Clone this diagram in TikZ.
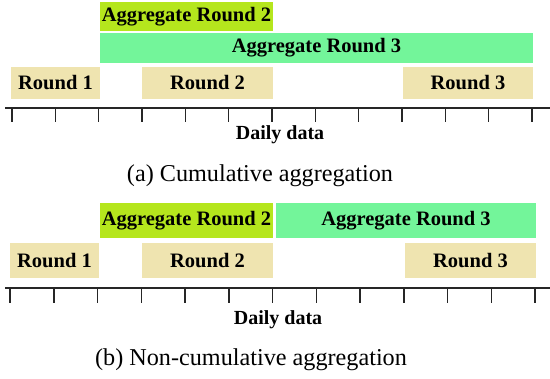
\documentclass[tikz,border=0pt]{standalone}
\usepackage{fontspec}
\setmainfont{Liberation Serif}
\definecolor{limeg}{HTML}{B5E61D}
\definecolor{mint}{HTML}{73F59A}
\definecolor{beige}{HTML}{EFE4B0}
\begin{document}
\begin{tikzpicture}[x=1pt,y=-1pt,
  box/.style={inner sep=0pt,outer sep=0pt,font=\fontsize{20.5}{20.5}\selectfont\bfseries,text=black},
  axis/.style={line width=2pt,draw=black!85},
  tickline/.style={line width=1.5pt,draw=black!85},
  lab/.style={font=\fontsize{20}{20}\selectfont\bfseries},
  captext/.style={font=\fontsize{24.2}{25}\selectfont}]
\useasboundingbox (0,0) rectangle (550,379);
% panel (a)
\node[box,fill=limeg,minimum width=173pt,minimum height=29pt] (agg2a) at (186.5,16.5) {Aggregate Round 2};
\node[box,fill=mint,minimum width=433pt,minimum height=30pt] (agg3a) at (316.5,48) {Aggregate Round 3};
\node[box,fill=beige,minimum width=89pt,minimum height=32pt] (r1a) at (55.5,83) {Round 1};
\node[box,fill=beige,minimum width=131pt,minimum height=32pt] (r2a) at (207.5,83) {Round 2};
\node[box,fill=beige,minimum width=130pt,minimum height=32pt] (r3a) at (468,83) {Round 3};
\draw[axis] (5,108) -- (550,108);
\foreach \i in {0,...,12} \draw[tickline] ({12+43.33*\i},108) -- ({12+43.33*\i},122);
\node[lab] (da) at (280,135) {Daily data};
\node[captext] (capa) at (260,176) {(a) Cumulative aggregation};
% panel (b)
\node[box,fill=limeg,minimum width=173pt,minimum height=35pt] (agg2b) at (186.5,220.5) {Aggregate Round 2};
\node[box,fill=mint,minimum width=260pt,minimum height=35pt] (agg3b) at (406,220.5) {Aggregate Round 3};
\node[box,fill=beige,minimum width=89pt,minimum height=35pt] (r1b) at (54.5,260.5) {Round 1};
\node[box,fill=beige,minimum width=131pt,minimum height=35pt] (r2b) at (207.5,260.5) {Round 2};
\node[box,fill=beige,minimum width=131pt,minimum height=35pt] (r3b) at (470.5,260.5) {Round 3};
\draw[axis] (5,288) -- (550,288);
\foreach \i in {0,...,12} \draw[tickline] ({10+43.75*\i},288) -- ({10+43.75*\i},303);
\node[lab] (db) at (278,320) {Daily data};
\node[captext] (capb) at (251,360) {(b) Non-cumulative aggregation};
\end{tikzpicture}
\end{document}
